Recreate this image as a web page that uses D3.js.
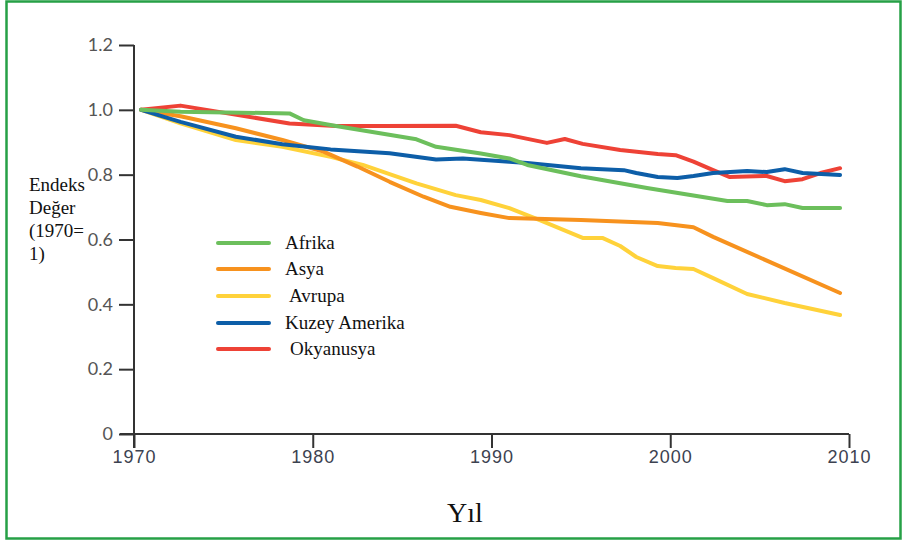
<!DOCTYPE html>
<html lang="tr">
<head>
    <meta charset="UTF-8">
    <title>Endeks Değer</title>
    <style>
        body { margin: 0; background: #fff; }
        .y-tick text { font-family: Lato, sans-serif; font-size: 18px; fill: #555; }
        .x-tick text { font-family: "Liberation Sans Narrow", "Liberation Sans", sans-serif; font-size: 18px; letter-spacing: 1px; fill: #3c4250; }
        .serif { font-family: "Liberation Serif", "DejaVu Serif", serif; fill: #111; }
    </style>
</head>
<body>
    <svg width="904" height="543"></svg>

    <script src="https://d3js.org/d3.v7.min.js"></script>
    <script>

        // Each series: [year, index value]
        const afrika = [[1970.4, 1.0], [1972.6, 0.994], [1978.7, 0.989], [1979.5, 0.968], [1981.3, 0.95],
            [1985.8, 0.909], [1986.9, 0.886], [1989.4, 0.865], [1991, 0.85], [1992, 0.83], [1995, 0.795],
            [1998.7, 0.759], [2003.2, 0.719], [2004.3, 0.719], [2005.4, 0.706], [2006.4, 0.709],
            [2007.4, 0.697], [2009.5, 0.697]];

        const asya = [[1970.4, 1.0], [1972.6, 0.98], [1975.7, 0.943], [1978.3, 0.907], [1980.6, 0.871],
            [1982.5, 0.825], [1984.3, 0.778], [1986.2, 0.732], [1987.7, 0.701], [1989.4, 0.682],
            [1991, 0.666], [1995, 0.66], [1999.3, 0.651], [2001.3, 0.638], [2002.4, 0.608], [2009.5, 0.435]];

        const avrupa = [[1970.4, 1.0], [1972.6, 0.958], [1975.7, 0.907], [1978.3, 0.886], [1981, 0.855],
            [1982.8, 0.83], [1985.8, 0.773], [1988, 0.737], [1989.4, 0.722], [1991, 0.697], [1992.7, 0.66],
            [1995.1, 0.605], [1996.2, 0.605], [1997.2, 0.58], [1998.1, 0.546], [1999.3, 0.518],
            [2000.3, 0.512], [2001.3, 0.509], [2002.4, 0.481], [2004.3, 0.432], [2006.4, 0.404],
            [2009.5, 0.367]];

        const kuzeyAmerika = [[1970.4, 1.0], [1972.6, 0.963], [1975.7, 0.917], [1978.3, 0.894], [1981, 0.878],
            [1984.3, 0.866], [1986.9, 0.847], [1988.4, 0.85], [1991, 0.84], [1992, 0.836], [1995, 0.82],
            [1997.4, 0.814], [1998.1, 0.805], [1999.3, 0.793], [2000.4, 0.79], [2001.3, 0.796],
            [2002.4, 0.805], [2004.3, 0.811], [2005.4, 0.808], [2006.4, 0.817], [2007.4, 0.805],
            [2009.5, 0.799]];

        const okyanusya = [[1970.4, 1.0], [1972.6, 1.013], [1978.7, 0.958], [1981.3, 0.95], [1983.9, 0.95],
            [1988, 0.951], [1989.4, 0.931], [1991, 0.922], [1993.1, 0.898], [1994.1, 0.91], [1995.1, 0.895],
            [1997.2, 0.876], [1999.3, 0.864], [2000.3, 0.86], [2001.3, 0.84], [2002.4, 0.814],
            [2003.3, 0.793], [2005.4, 0.796], [2006.4, 0.78], [2007.4, 0.786], [2008.4, 0.805],
            [2009.5, 0.82]];

        const seriesNames = ['Afrika', 'Asya', 'Avrupa', 'Kuzey Amerika', 'Okyanusya'];
        const seriesColors = ['#6cbf5c', '#f7921e', '#ffd23a', '#0d5ea8', '#ee4236'];
        const seriesData = [afrika, asya, avrupa, kuzeyAmerika, okyanusya];

        const xTickValues = [1970, 1980, 1990, 2000, 2010];
        const yTickValues = [0, 0.2, 0.4, 0.6, 0.8, 1.0, 1.2];

        const svg = d3.select('svg');

        // green frame round the whole picture
        svg.append('rect')
            .attr('x', 6.5).attr('y', 1.5)
            .attr('width', 894).attr('height', 537)
            .attr('fill', 'none')
            .attr('stroke', '#26a046')
            .attr('stroke-width', 2.5);

        const xScale = d3.scaleLinear().domain([1970, 2010]).range([134, 849]);
        const yScale = d3.scaleLinear().domain([0, 1.2]).range([434, 45]);

        // y axis: ticks to the left, line runs a bit below the x axis
        const yAxisG = svg.append('g')
            .attr('class', 'y-tick')
            .attr('transform', 'translate(134 0)')
            .call(d3.axisLeft(yScale)
                .tickValues(yTickValues)
                .tickFormat(function (d) { return d === 0 ? '0' : d3.format('.1f')(d); })
                .tickSize(15)
                .tickPadding(6));
        yAxisG.select('.domain').remove();
        yAxisG.selectAll('line').attr('stroke', '#333').attr('stroke-width', 2);

        svg.append('line')
            .attr('x1', 134).attr('x2', 134)
            .attr('y1', yScale(1.2)).attr('y2', 448)
            .attr('stroke', '#333').attr('stroke-width', 2);

        const xAxisG = svg.append('g')
            .attr('class', 'x-tick')
            .attr('transform', 'translate(0 434)')
            .call(d3.axisBottom(xScale)
                .tickValues(xTickValues)
                .tickFormat(d3.format('d'))
                .tickSize(14)
                .tickPadding(2));
        xAxisG.select('.domain').remove();
        xAxisG.selectAll('line').attr('stroke', '#333').attr('stroke-width', 2);

        svg.append('line')
            .attr('x1', 120).attr('x2', xScale(2010))
            .attr('y1', 434).attr('y2', 434)
            .attr('stroke', '#333').attr('stroke-width', 2);

        // lines
        const line = d3.line()
            .x(function (d) { return xScale(d[0]); })
            .y(function (d) { return yScale(d[1]); });

        const drawOrder = [4, 2, 1, 3, 0];
        drawOrder.forEach(function (i) {
            svg.append('path')
                .attr('d', line(seriesData[i]))
                .attr('fill', 'none')
                .attr('stroke', seriesColors[i])
                .attr('stroke-width', 4)
                .attr('stroke-linejoin', 'round')
                .attr('stroke-linecap', 'round');
        });

        // legend
        const legendY = [243, 269, 296, 323, 349];
        const legendTextX = [285, 285, 289, 285, 290];
        const legend = svg.append('g');
        seriesNames.forEach(function (name, i) {
            legend.append('line')
                .attr('x1', 218).attr('x2', 269)
                .attr('y1', legendY[i]).attr('y2', legendY[i])
                .attr('stroke', seriesColors[i])
                .attr('stroke-width', 4)
                .attr('stroke-linecap', 'round');
            legend.append('text')
                .attr('class', 'serif')
                .attr('x', legendTextX[i])
                .attr('y', legendY[i] + 6)
                .style('font-size', '19px')
                .text(name);
        });

        // axis titles
        const yTitle = ['Endeks', 'Değer', '(1970=', '1)'];
        yTitle.forEach(function (t, i) {
            svg.append('text')
                .attr('class', 'serif')
                .attr('x', 29)
                .attr('y', 191 + i * 23)
                .style('font-size', '19px')
                .text(t);
        });

        svg.append('text')
            .attr('class', 'serif')
            .attr('x', 465)
            .attr('y', 522)
            .attr('text-anchor', 'middle')
            .style('font-size', '28px')
            .text('Yıl');

    </script>
</body>
</html>
